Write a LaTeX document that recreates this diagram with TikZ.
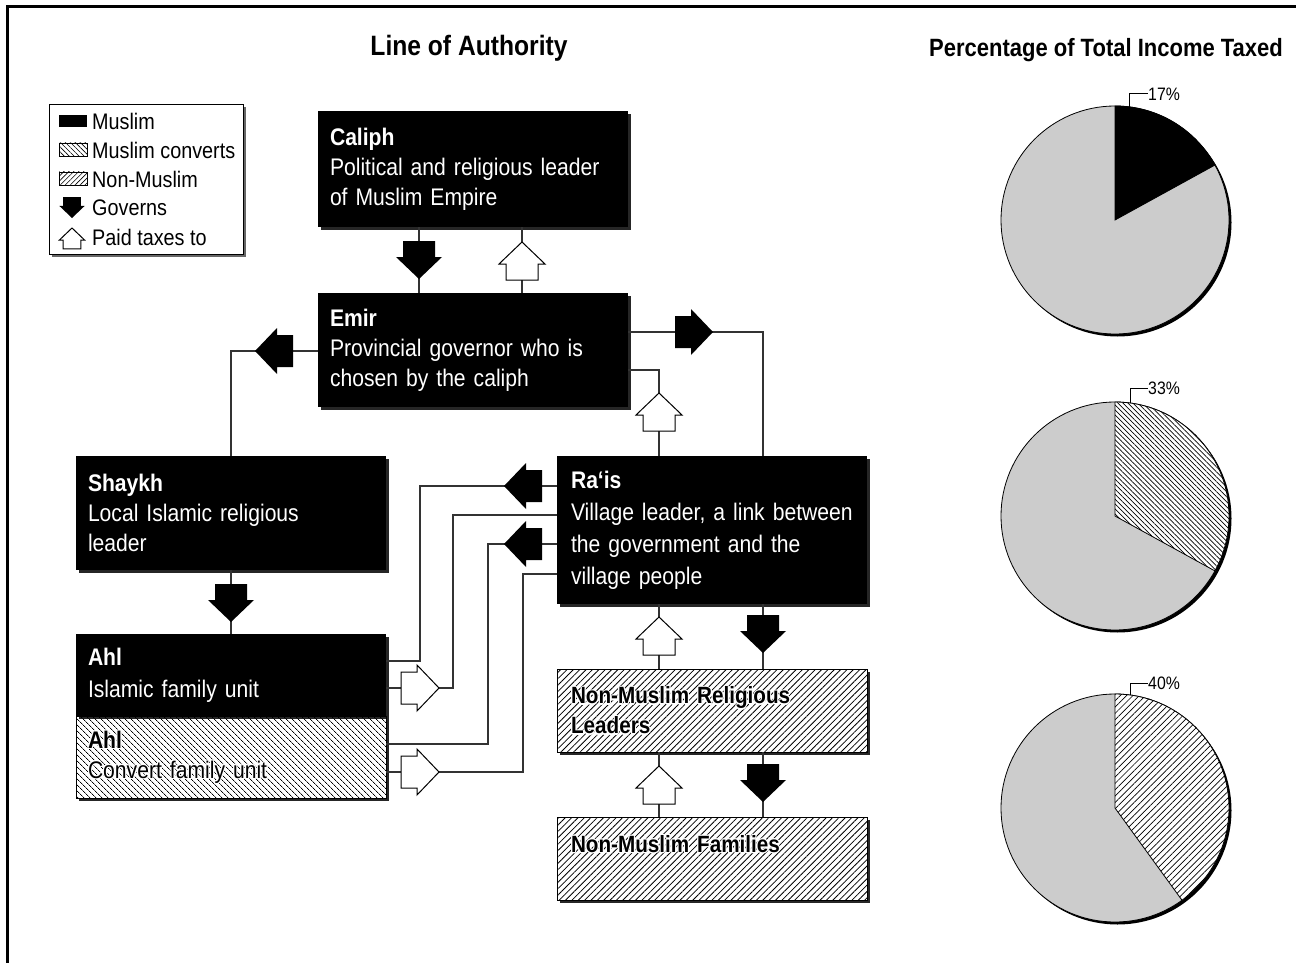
\documentclass[tikz,border=0pt]{standalone}
\usepackage{fontspec}
\setmainfont{Liberation Sans}[FakeStretch=0.88]
\usetikzlibrary{shadows,patterns.meta}
\definecolor{piegray}{HTML}{CCCCCC}
\definecolor{conncol}{HTML}{333333}
\newcommand\bxfont{\fontsize{24}{30}\selectfont}
\newcommand\lgfont{\fontsize{22.5}{24}\selectfont}
\newcommand\hcopy[3]{\makebox[0pt][l]{\hspace{#1}\raisebox{#2}{\textcolor{white}{#3}}}}
\newcommand\halo[1]{\hcopy{1.1pt}{0pt}{#1}\hcopy{-1.1pt}{0pt}{#1}\hcopy{0pt}{1.1pt}{#1}\hcopy{0pt}{-1.1pt}{#1}\hcopy{0.8pt}{0.8pt}{#1}\hcopy{-0.8pt}{0.8pt}{#1}\hcopy{0.8pt}{-0.8pt}{#1}\hcopy{-0.8pt}{-0.8pt}{#1}#1}
\begin{document}
\begin{tikzpicture}[x=1pt,y=-1pt,
  conn/.style={draw=conncol,line width=1.3pt},
  shad/.style={drop shadow={shadow xshift=3pt,shadow yshift=-3pt,fill=black,opacity=0.85}},
  boxbase/.style={rectangle,anchor=north west,minimum width=310,inner xsep=12,inner ysep=0,outer sep=0,text width=286,align=left,font=\bxfont},
  blackbox/.style={boxbase,fill=black,text=white,shad},
  convbox/.style={boxbase,shad,preaction={fill=white},draw=black,line width=1pt,
     pattern={Lines[angle=-45,distance=4pt,line width=0.8pt]}},
  nonmbox/.style={boxbase,shad,preaction={fill=white},draw=black,line width=1pt,
     pattern={Lines[angle=45,distance=4.5pt,line width=0.8pt]}},
  legtext/.style={anchor=west,font=\lgfont,inner sep=0},
  pics/govarrow/.style={code={\fill[black] (-38,-16) -- (-22,-16) -- (-22,-23) -- (0,0) -- (-22,23) -- (-22,16) -- (-38,16) -- cycle;}},
  pics/taxarrow/.style={code={\filldraw[fill=white,draw=black,line width=1pt] (-38,-16) -- (-22,-16) -- (-22,-23) -- (0,0) -- (-22,23) -- (-22,16) -- (-38,16) -- cycle;}}
]
\path[use as bounding box] (0,0) rectangle (1296,963);
% frame
\draw[line width=3pt] (7,963) -- (7,7) -- (1296,7);

% titles
\node[font=\bfseries\fontsize{28}{32}\selectfont] (title) at (469,48) {Line of Authority};
\node[font=\bfseries\fontsize{25}{28}\selectfont] (ptitle) at (1106,50) {Percentage of Total Income Taxed};

% legend
\node[draw=black,line width=0.8pt,fill=white,minimum width=194,minimum height=150,anchor=north west,outer sep=0,
  drop shadow={shadow xshift=3pt,shadow yshift=-3pt,fill=black,opacity=0.6}] (legend) at (49,104) {};
\fill (59,115) rectangle (87,127);
\path[draw=black,line width=0.8pt,pattern={Lines[angle=-45,distance=3.5pt,line width=0.6pt]}] (59,143) rectangle (87,156);
\path[draw=black,line width=0.8pt,pattern={Lines[angle=45,distance=3.5pt,line width=0.6pt]}] (59,172) rectangle (87,185);
\pic[rotate=-90,scale=0.55] at (72,218) {govarrow};
\pic[rotate=90,scale=0.55] at (72,228) {taxarrow};
\node[legtext] (lg1) at (92,121) {Muslim};
\node[legtext] (lg2) at (92,150) {Muslim converts};
\node[legtext] (lg3) at (92,179) {Non-Muslim};
\node[legtext] (lg4) at (92,208) {Governs};
\node[legtext] (lg5) at (92,237) {Paid taxes to};

% boxes
\node[blackbox,minimum height=116] (caliph) at (318,111) {\textbf{Caliph}\\Political and religious leader\\of Muslim Empire};
\node[blackbox,minimum height=114] (emir) at (318,293) {\textbf{Emir}\\Provincial governor who is\\chosen by the caliph};
\node[blackbox,minimum height=114] (shaykh) at (76,456) {\textbf{Shaykh}\\Local Islamic religious\\leader};
\node[blackbox,minimum height=148,inner xsep=14,text width=282,font=\fontsize{24}{32}\selectfont] (rais) at (557,456) {\textbf{Ra‘is}\\Village leader, a link between\\the government and the\\village people};
\node[convbox,minimum height=82] (ahlc) at (76,716) {\halo{\textbf{Ahl}}\\\halo{Convert family unit}};
\node[blackbox,minimum height=82,font=\fontsize{24}{32}\selectfont] (ahl) at (76,634) {\textbf{Ahl}\\Islamic family unit};
\node[nonmbox,minimum height=83,inner xsep=14,text width=282,font=\bfseries\fontsize{23.5}{30}\selectfont] (nmrl) at (557,669) {\halo{Non-Muslim Religious}\\\halo{Leaders}};
\node[nonmbox,minimum height=83,inner xsep=14,text width=282,font=\bfseries\fontsize{23.5}{30}\selectfont] (nmf) at (557,817) {\halo{Non-Muslim Families}\\~};

% connectors
\draw[conn] ([xshift=101pt]caliph.south west) -- ([xshift=101pt]emir.north west);
\draw[conn] ([xshift=204pt]caliph.south west) -- ([xshift=204pt]emir.north west);
\draw[conn] (emir.west |- 0,351) -| (shaykh.north -| 231,0);
\draw[conn] (emir.east |- 0,332) -| (rais.north -| 763,0);
\draw[conn] (emir.east |- 0,370) -| (rais.north -| 659,0);
\draw[conn] (shaykh.south -| 231,0) -- (ahl.north -| 231,0);
\draw[conn] (rais.west |- 0,486) -| (420,661) -- (ahl.east |- 0,661);
\draw[conn] (rais.west |- 0,515) -| (453,688) -- (ahl.east |- 0,688);
\draw[conn] (rais.west |- 0,544) -| (488,744) -- (ahlc.east |- 0,744);
\draw[conn] (rais.west |- 0,574) -| (523,772) -- (ahlc.east |- 0,772);
\draw[conn] (rais.south -| 659,0) -- (nmrl.north -| 659,0);
\draw[conn] (rais.south -| 763,0) -- (nmrl.north -| 763,0);
\draw[conn] (nmrl.south -| 659,0) -- (nmf.north -| 659,0);
\draw[conn] (nmrl.south -| 763,0) -- (nmf.north -| 763,0);

% arrows
\pic[rotate=-90] at (419,279) {govarrow};
\pic[rotate=90] at (522,242) {taxarrow};
\pic[rotate=180] at (255,351) {govarrow};
\pic at (713,332) {govarrow};
\pic[rotate=90] at (659,393) {taxarrow};
\pic[rotate=-90] at (231,622) {govarrow};
\pic[rotate=180] at (504,486) {govarrow};
\pic[rotate=180] at (504,544) {govarrow};
\pic at (439,688) {taxarrow};
\pic at (439,772) {taxarrow};
\pic[rotate=-90] at (763,653) {govarrow};
\pic[rotate=90] at (659,617) {taxarrow};
\pic[rotate=-90] at (763,802) {govarrow};
\pic[rotate=90] at (659,766) {taxarrow};

% pies
\fill[black] (1117.5,222.5) circle[radius=114];
\filldraw[fill=piegray,draw=black,line width=0.8pt] (1115,220) circle[radius=114];
\filldraw[fill=black,draw=black,line width=0.8pt] (1115,220) -- ++(-90:114) arc[start angle=-90,end angle=-28.8,radius=114] -- cycle;
\node[anchor=west,font=\fontsize{18}{20}\selectfont,inner sep=0] (p1) at (1148,94) {17\%};
\draw[line width=1pt] (1129,107) |- (p1.west);

\fill[black] (1117.5,518.5) circle[radius=114];
\filldraw[fill=piegray,draw=black,line width=0.8pt] (1115,516) circle[radius=114];
\filldraw[fill=white,draw=black,line width=0.8pt] (1115,516) -- ++(-90:114) arc[start angle=-90,end angle=28.8,radius=114] -- cycle;
\path[pattern={Lines[angle=-45,distance=3.5pt,line width=0.7pt]}] (1115,516) -- ++(-90:114) arc[start angle=-90,end angle=28.8,radius=114] -- cycle;
\node[anchor=west,font=\fontsize{18}{20}\selectfont,inner sep=0] (p2) at (1148,388) {33\%};
\draw[line width=1pt] (1130,403) |- (p2.west);

\fill[black] (1117.5,810.5) circle[radius=114];
\filldraw[fill=piegray,draw=black,line width=0.8pt] (1115,808) circle[radius=114];
\filldraw[fill=white,draw=black,line width=0.8pt] (1115,808) -- ++(-90:114) arc[start angle=-90,end angle=54,radius=114] -- cycle;
\path[pattern={Lines[angle=45,distance=4.5pt,line width=0.7pt]}] (1115,808) -- ++(-90:114) arc[start angle=-90,end angle=54,radius=114] -- cycle;
\node[anchor=west,font=\fontsize{18}{20}\selectfont,inner sep=0] (p3) at (1148,683) {40\%};
\draw[line width=1pt] (1130,695) |- (p3.west);
\end{tikzpicture}
\end{document}
